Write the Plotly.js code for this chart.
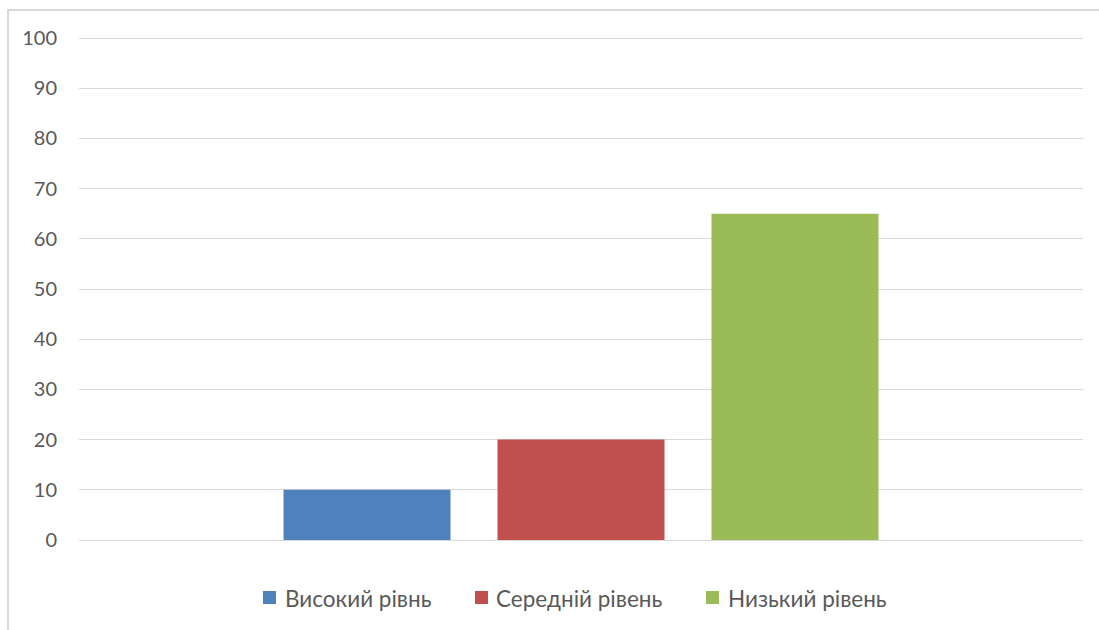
<!DOCTYPE html>
<html>
<head>
<meta charset="utf-8">
<script src="https://cdn.plot.ly/plotly-3.0.1.min.js"></script>
<style>
  html, body { margin:0; padding:0; background:#fff; overflow:hidden; }
  #wrap { position:relative; width:1099px; height:630px; }
  #chart { position:absolute; left:0; top:0; width:1099px; height:630px; }
  #frame { position:absolute; left:7px; top:9px; width:1110px; height:640px; border:2px solid #d9d9d9; box-sizing:border-box; pointer-events:none; }
</style>
</head>
<body>
<div id="wrap">
  <div id="chart"></div>
  <div id="frame"></div>
</div>
<script>
const category = [""];
const seriesNames = ["Високий рівнь", "Середній рівень", "Низький рівень"];
const seriesValues = [[10], [20], [65]];
const seriesColors = ["#4f81bd", "#c0504d", "#9bbb59"];
const yTicks = [0, 10, 20, 30, 40, 50, 60, 70, 80, 90, 100];

// layout geometry (pixels)
const W = 1099, H = 630;
const M = { l: 79, r: 16, t: 35, b: 90 };
const plotW = W - M.l - M.r, plotH = H - M.t - M.b;
const px2x = px => (px - M.l) / plotW;
const py2y = py => (H - M.b - py) / plotH;

// custom legend positions (pixels)
const legendSquareLeft = [263, 475, 706];
const legendTextLeft = [283, 494, 726];
const legendCenterY = 598;
const sq = 13;

const traces = seriesNames.map((name, i) => ({
  type: "bar",
  name: name,
  x: category,
  y: seriesValues[i],
  marker: { color: seriesColors[i] },
  hoverinfo: "none",
  showlegend: false
}));

const shapes = seriesNames.map((n, i) => ({
  type: "rect",
  xref: "paper", yref: "paper",
  x0: px2x(legendSquareLeft[i]), x1: px2x(legendSquareLeft[i] + sq),
  y0: py2y(legendCenterY + sq / 2 - 0.5), y1: py2y(legendCenterY - sq / 2 - 0.5),
  fillcolor: seriesColors[i],
  line: { width: 0 }
}));

const annotations = seriesNames.map((n, i) => ({
  xref: "paper", yref: "paper",
  x: px2x(legendTextLeft[i]), y: py2y(legendCenterY),
  xanchor: "left", yanchor: "middle",
  text: n,
  showarrow: false,
  font: { size: 22.5, color: "#595959" }
}));

const layout = {
  width: W,
  height: H,
  paper_bgcolor: "rgba(0,0,0,0)",
  plot_bgcolor: "rgba(0,0,0,0)",
  margin: M,
  barmode: "group",
  bargap: 0.3606,
  bargroupgap: 0.2196,
  font: { family: "Lato, 'Open Sans', sans-serif", color: "#595959", size: 20 },
  xaxis: {
    type: "category",
    range: [-0.5, 0.5],
    showticklabels: false,
    showgrid: false,
    zeroline: false,
    showline: false,
    ticks: ""
  },
  yaxis: {
    range: [0, 100.6],
    tickvals: yTicks,
    ticktext: yTicks.map(String),
    showgrid: true,
    gridcolor: "#d9d9d9",
    gridwidth: 1,
    zeroline: true,
    zerolinecolor: "#d9d9d9",
    zerolinewidth: 1,
    showline: false,
    ticks: "",
    ticklabelstandoff: 21,
    tickfont: { size: 20, color: "#595959" }
  },
  showlegend: false,
  shapes: shapes,
  annotations: annotations
};

Plotly.newPlot("chart", traces, layout, { staticPlot: true, displayModeBar: false });
</script>
</body>
</html>
